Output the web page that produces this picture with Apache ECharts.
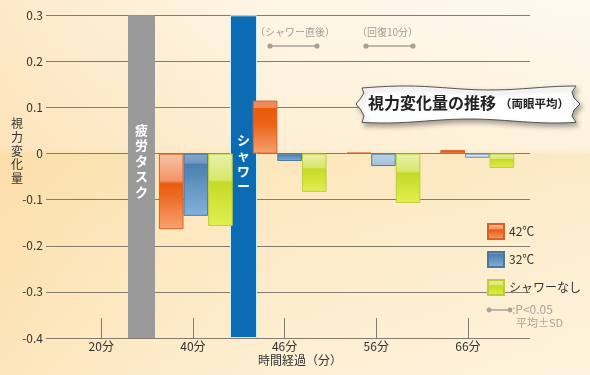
<!DOCTYPE html>
<html>
<head>
<meta charset="utf-8">
<script src="https://cdn.jsdelivr.net/npm/echarts@6/dist/echarts.min.js"></script>
<style>
html,body{margin:0;padding:0;}
#c{width:590px;height:375px;}
</style>
</head>
<body>
<div id="c"></div>
<script>
// ---- data ----
const tickLabels = ['20分', '40分', '46分', '56分', '66分'];
const barCategories = ['40分', '46分', '56分', '66分'];
const phases = ['疲労タスク', 'シャワー'];
const seriesNames = ['42℃', '32℃', 'シャワーなし'];
const v42 = [-0.164, 0.115, 0.002, 0.008];
const v32 = [-0.135, -0.016, -0.027, -0.009];
const vNone = [-0.157, -0.083, -0.107, -0.031];
const yMin = -0.4, yMax = 0.3, yStep = 0.1;

// ---- styles ----
const FONT = '"Noto Sans CJK JP", "Noto Sans", sans-serif';
function grad(stops) {
  return { type: 'linear', x: 0, y: 0, x2: 0, y2: 1, colorStops: stops.map(s => ({ offset: s[0], color: s[1] })) };
}
const gOrange = grad([[0, '#f9c4a6'], [0.36, '#f29468'], [0.40, '#e95a0c'], [0.55, '#ec6a22'], [1, '#f9a272']]);
const gOrangeUp = grad([[0, '#f08a5c'], [0.13, '#f08a5c'], [0.15, '#e85a0a'], [0.45, '#ea6418'], [1, '#f7a272']]);
const gBlue = grad([[0, '#86a8c8'], [0.15, '#7098c0'], [0.17, '#4b7eae'], [1, '#84b2de']]);
const gGreen = grad([[0, '#e9f1ab'], [0.36, '#d8e86a'], [0.40, '#c6d926'], [1, '#e2f052']]);
const gBluePale = grad([[0, '#bcd2e4'], [1, '#a4c0d8']]);
const gBlueVeryPale = grad([[0, '#dde9f0'], [1, '#cfdfe8']]);
const lineColor = '#857c70';

// ribbon outline for the title
function ribbonPoints() {
  const pts = [];
  const L = 362, R = 576, T = 88, B = 121;
  const n = 24;
  for (let i = 0; i <= n; i++) {
    const x = L + (R - L) * i / n;
    pts.push([x, T - 2 * Math.sin(i / n * Math.PI * 2.5)]);
  }
  [[572, 92], [574, 98], [580, 104], [574, 110], [572, 116]].forEach(p => pts.push(p));
  for (let i = 0; i <= n; i++) {
    const x = R - (R - L) * i / n;
    pts.push([x, B + 2 * Math.sin(i / n * Math.PI * 2.5 + 0.8)]);
  }
  [[364, 116], [361, 110], [356, 104], [361, 98], [364, 93]].forEach(p => pts.push(p));
  return pts;
}

const chart = echarts.init(document.getElementById('c'));

const grids = [
  { left: 46, right: 60, top: 15.3, bottom: 37 },        // main (y axis / grid lines)
  { left: 55.4, right: 76.2, top: 15.3, bottom: 37 },    // time ticks
  { left: 148.9, right: 65.8, top: 15.3, bottom: 37 },   // bars
  { left: 90.5, right: 295.5, top: 15.3, bottom: 37 }    // phase bars
];

const orangeData = v42.map(v => v > 0.05 ? { value: v, itemStyle: { color: gOrangeUp } } : v);
const blueData = v32.map((v, i) => {
  const c = barCategories[i];
  if (c === '56分') return { value: v, itemStyle: { color: gBluePale } };
  if (c === '66分') return { value: v, itemStyle: { color: gBlueVeryPale, borderColor: '#6f8ea8' } };
  return v;
});

function txt(x, y, text, font, fill, z) {
  return { type: 'text', x: x, y: y, z: z || 10, silent: true, style: { text: text, font: font, fill: fill } };
}

const option = {
  animation: false,
  textStyle: { fontFamily: FONT },
  grid: grids,
  xAxis: [
    { gridIndex: 0, type: 'category', data: [''], show: false },
    {
      gridIndex: 1, type: 'category', data: tickLabels, boundaryGap: true,
      axisLine: { show: false, onZero: false },
      axisTick: { show: true, inside: true, length: 20, alignWithLabel: true, lineStyle: { color: lineColor, width: 1 } },
      axisLabel: { color: '#333', fontSize: 12, margin: 2, fontFamily: FONT },
      splitLine: { show: false }
    },
    { gridIndex: 2, type: 'category', data: barCategories, show: false },
    { gridIndex: 3, type: 'category', data: phases, show: false }
  ],
  yAxis: [
    {
      gridIndex: 0, type: 'value', min: yMin, max: yMax, interval: yStep,
      axisLine: { show: false }, axisTick: { show: false },
      axisLabel: {
        color: '#333', fontSize: 12, margin: 3, fontFamily: FONT,
        formatter: v => Math.abs(v) < 1e-9 ? '0' : v.toFixed(1)
      },
      splitLine: { show: true, lineStyle: { color: lineColor, width: 1 } }
    },
    { gridIndex: 1, type: 'value', min: yMin, max: yMax, show: false },
    { gridIndex: 2, type: 'value', min: yMin, max: yMax, show: false },
    { gridIndex: 3, type: 'value', min: 0, max: 1, show: false }
  ],
  legend: {
    data: seriesNames,
    orient: 'vertical', left: 487, top: 223,
    itemWidth: 16, itemHeight: 15, itemGap: 11, padding: 0,
    textStyle: { color: '#333', fontSize: 12, fontFamily: FONT },
    icon: 'rect'
  },
  series: [
    {
      name: 'phase', type: 'bar', xAxisIndex: 3, yAxisIndex: 3,
      data: phases.map((p, i) => ({
        value: 1,
        itemStyle: i === 0 ? { color: '#9a9a9a' } : { color: '#0b6cb4', borderColor: '#cdeefa', borderWidth: 1 },
        label: i === 0 ? { position: [13.5, 107] } : { position: [13.5, 117] }
      })),
      barWidth: 27,
      silent: true,
      label: {
        show: true, color: '#fff', fontSize: 13, fontWeight: 'bold', lineHeight: 15.5,
        align: 'center', verticalAlign: 'top', fontFamily: FONT,
        formatter: p => p.name.split('').join('\n')
      }
    },
    {
      name: seriesNames[0], type: 'bar', xAxisIndex: 2, yAxisIndex: 2, data: orangeData,
      barWidth: 24.6, barGap: '0%',
      itemStyle: { color: gOrange, borderColor: '#d6622a', borderWidth: 1 }
    },
    {
      name: seriesNames[1], type: 'bar', xAxisIndex: 2, yAxisIndex: 2, data: blueData,
      barWidth: 24.6, barGap: '0%',
      itemStyle: { color: gBlue, borderColor: '#4b77a0', borderWidth: 1 }
    },
    {
      name: seriesNames[2], type: 'bar', xAxisIndex: 2, yAxisIndex: 2, data: vNone,
      barWidth: 24.6, barGap: '0%',
      itemStyle: { color: gGreen, borderColor: '#bccd3c', borderWidth: 1 }
    }
  ],
  graphic: [
    // background
    {
      type: 'rect', z: -100, silent: true, shape: { x: 0, y: 0, width: 590, height: 375 },
      style: { fill: grad([[0, '#fef9ef'], [0.40, '#fdf1d9'], [0.411, '#fce8bf'], [0.6, '#fdecca'], [1, '#fdf2da']]) }
    },
    {
      type: 'rect', z: -99, silent: true, shape: { x: 0, y: 0, width: 590, height: 375 },
      style: { fill: { type: 'linear', x: 0, y: 0, x2: 1, y2: 0, colorStops: [
        { offset: 0, color: 'rgba(250,205,130,0.35)' }, { offset: 0.5, color: 'rgba(250,215,150,0.08)' }, { offset: 1, color: 'rgba(255,255,255,0.1)' }] } }
    },
    // axis titles
    { type: 'text', x: 11, y: 117, z: 10, silent: true,
      style: { text: '視\n力\n変\n化\n量', fill: '#333', font: '12px ' + FONT, lineHeight: 13.6 } },
    txt(258, 354, '時間経過（分）', '12px ' + FONT, '#333'),
    // significance annotations
    txt(255, 27, '（シャワー直後）', '10px ' + FONT, '#a39b92'),
    txt(357, 27, '（回復10分）', '10px ' + FONT, '#a39b92'),
    { type: 'line', z: 10, shape: { x1: 270, y1: 46, x2: 317, y2: 46 }, style: { stroke: '#a8a098', lineWidth: 1.5 } },
    { type: 'circle', z: 10, shape: { cx: 270, cy: 46, r: 2.6 }, style: { fill: '#a8a098' } },
    { type: 'circle', z: 10, shape: { cx: 317, cy: 46, r: 2.6 }, style: { fill: '#a8a098' } },
    { type: 'line', z: 10, shape: { x1: 366, y1: 46, x2: 413, y2: 46 }, style: { stroke: '#a8a098', lineWidth: 1.5 } },
    { type: 'circle', z: 10, shape: { cx: 366, cy: 46, r: 2.6 }, style: { fill: '#a8a098' } },
    { type: 'circle', z: 10, shape: { cx: 413, cy: 46, r: 2.6 }, style: { fill: '#a8a098' } },
    // legend note
    { type: 'line', z: 10, shape: { x1: 489, y1: 310, x2: 510, y2: 310 }, style: { stroke: '#aaa39a', lineWidth: 1.5 } },
    { type: 'circle', z: 10, shape: { cx: 489, cy: 310, r: 2.4 }, style: { fill: '#aaa39a' } },
    { type: 'circle', z: 10, shape: { cx: 510, cy: 310, r: 2.4 }, style: { fill: '#aaa39a' } },
    txt(512, 303, ':P<0.05', '12px ' + FONT, '#aaa39a'),
    txt(516, 317, '平均±SD', '11px ' + FONT, '#aaa39a'),
    // title ribbon
    {
      type: 'polygon', z: 20, silent: true,
      shape: { points: ribbonPoints() },
      style: { fill: '#ffffff', stroke: '#555', lineWidth: 1, shadowBlur: 5, shadowOffsetX: 2, shadowOffsetY: 3, shadowColor: 'rgba(0,0,0,0.35)' }
    },
    txt(368, 95, '視力変化量の推移', 'bold 16px ' + FONT, '#222', 21),
    txt(500, 98, '（両眼平均）', 'bold 11.5px ' + FONT, '#222', 21)
  ]
};
chart.setOption(option);
</script>
</body>
</html>
